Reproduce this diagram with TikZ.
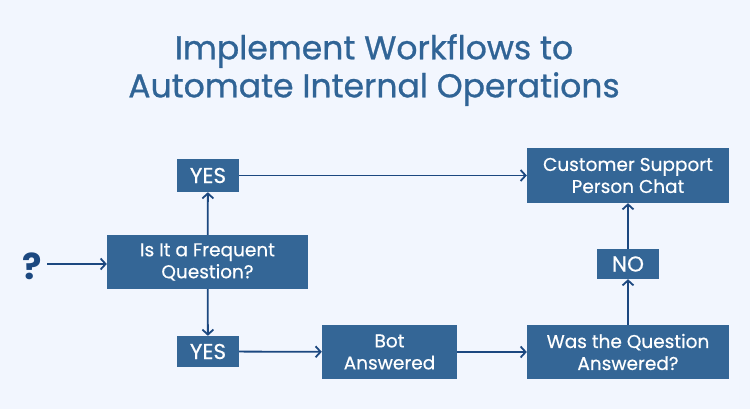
\documentclass[tikz,border=0pt]{standalone}
\usepackage{fontspec}
\setmainfont{Poppins}
\usepackage{tikz}
\usetikzlibrary{arrows.meta,calc}
\definecolor{boxblue}{RGB}{52,102,150}
\definecolor{linkblue}{RGB}{28,72,128}
\definecolor{titleblue}{RGB}{48,100,150}
\definecolor{paper}{RGB}{242,246,254}
\tikzset{
  flowbox/.style={fill=boxblue, text=white, align=center, inner sep=0pt, font=\fontsize{18.5}{22}\selectfont\addfontfeature{FakeBold=0.5}},
  flowword/.style={flowbox, font=\fontsize{21.5}{22}\selectfont\addfontfeature{FakeBold=0.5}},
  flowlink/.style={-{Straight Barb[length=5pt,width=11pt]}, draw=linkblue, line width=1.8pt}
}

\begin{document}
\begin{tikzpicture}[x=1pt,y=-1pt]
          \fill[paper] (0,0) rectangle (750,409);
          \useasboundingbox (0,0) rectangle (750,409);

          \node[text=titleblue, align=center, font=\fontsize{33}{38}\selectfont\addfontfeature{FakeBold=0.8}] (Title) at (374,70) {Implement Workflows to\\Automate Internal Operations};

          \node[text=linkblue, font=\fontsize{36}{40}\selectfont\bfseries] (Ask) at (32,266) {?};
          \node[flowbox, minimum width=201pt, minimum height=54pt] (Frequent) at (207.5,262) {Is It a Frequent\\Question?};
          \node[flowword, minimum width=62pt, minimum height=33pt] (YesTop) at (208,175.5) {YES};
          \node[flowword, minimum width=62pt, minimum height=31pt] (YesBottom) at (208,351.5) {YES};
          \node[flowbox, minimum width=135pt, minimum height=54pt] (Bot) at (389.5,352) {Bot\\Answered};
          \node[flowbox, minimum width=202pt, minimum height=54pt] (Answered) at (628,352) {Was the Question\\Answered?};
          \node[flowword, minimum width=62pt, minimum height=30pt] (No) at (628,264) {NO};
          \node[flowbox, minimum width=202pt, minimum height=55pt] (Support) at (628,175.5) {Customer Support\\Person Chat};

          \draw[flowlink] (Ask.east) ++(2,-2) coordinate (AskOut) -- (AskOut -| Frequent.west);
          \draw[flowlink] (Frequent) to (YesTop);
          \draw[flowlink] (Frequent) to (YesBottom);
          \draw[flowlink] (YesTop) to (Support);
          \draw[flowlink] (YesBottom) to (Bot);
          \draw[flowlink] (Bot) to (Answered);
          \draw[flowlink] (Answered) to (No);
          \draw[flowlink] (No) to (Support);
        \end{tikzpicture}
\end{document}
